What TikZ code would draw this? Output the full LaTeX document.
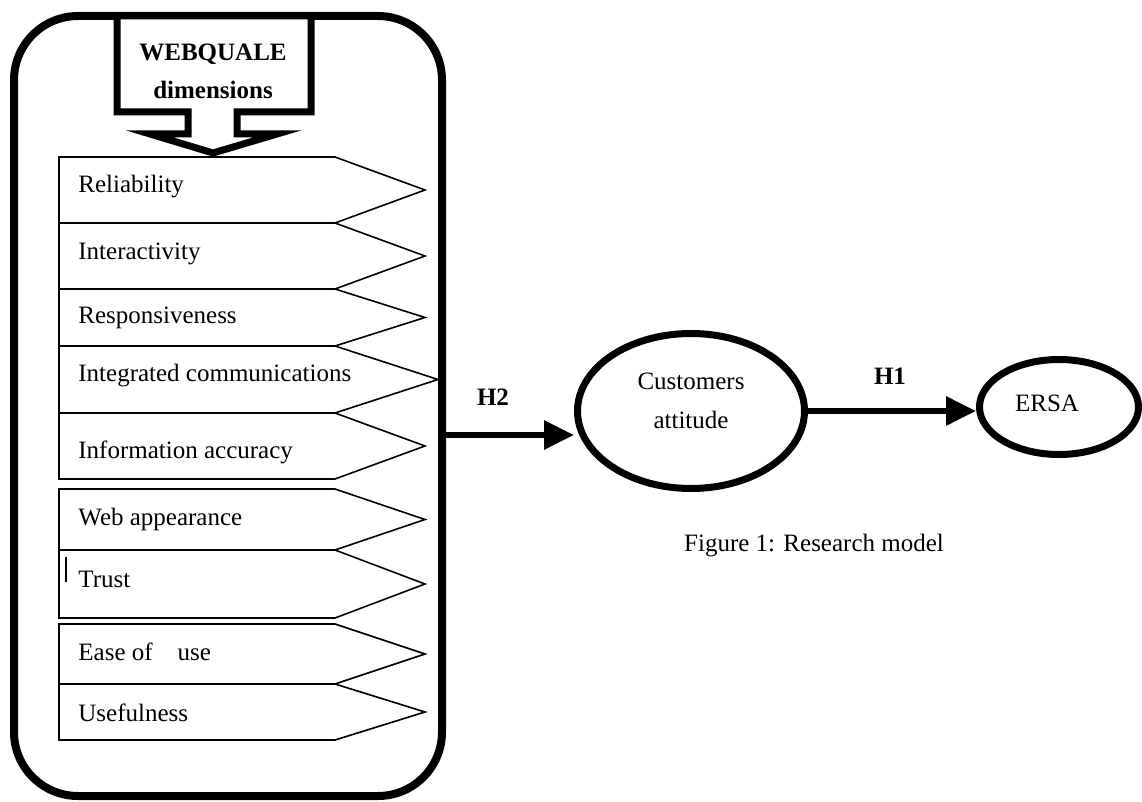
\documentclass[tikz,border=0pt]{standalone}
\usepackage{fontspec}
\setmainfont{Liberation Serif}
\usetikzlibrary{shapes.geometric, positioning, arrows.meta}

\begin{document}
\begin{tikzpicture}[x=0.5pt, y=-0.5pt,
    itembox/.style={draw, line width=0.8pt},
    itemtext/.style={anchor=west, inner sep=0pt, font=\fontsize{12.5}{15}\selectfont},
    bigellipse/.style={draw, ellipse, line width=3.5pt, inner sep=0pt},
    ellipsetext/.style={align=center, font=\fontsize{12.5}{19.5}\selectfont},
    link/.style={line width=3pt, -{Triangle[length=15pt, width=14pt]}},
    hlabel/.style={font=\fontsize{12.5}{15}\selectfont\bfseries}]
    \useasboundingbox (0,0) rectangle (1142,802);

    % Outer frame
    \node[draw, line width=4pt, rounded corners=32pt, minimum width=214pt,
          minimum height=390pt, inner sep=0pt] (frame) at (228,406) {};

    % Heading arrow
    \draw[line width=3.5pt, fill=white] (117,16) -- (311,16) -- (311,112) -- (237,112)
        -- (237,134) -- (277,134) -- (213,153) -- (150,134) -- (188,134)
        -- (188,112) -- (117,112) -- cycle;
    \node[font=\fontsize{12.5}{19}\selectfont\bfseries, align=center] (heading) at (213,71)
        {WEBQUALE\\dimensions};

    % Dimensions
    \foreach \ya/\yb/\tipx/\ty/\name/\txt in {
        157/223/425/187/rel/Reliability,
        223/289/425/254/inter/Interactivity,
        289/346/425/318/resp/Responsiveness,
        346/413/438/376/integ/Integrated communications,
        413/479/425/452/info/Information accuracy,
        489/550/425/519/webapp/Web appearance,
        550/618/425/579/trust/Trust,
        624/684/425/652/ease/Ease of\hskip 1em use,
        684/740/425/713/useful/Usefulness}
    {
        \draw[itembox] (59,\ya) -- (335,\ya) -- (\tipx,{(\ya+\yb)/2}) -- (335,\yb)
            -- (59,\yb) -- cycle;
        \node[itemtext] (\name) at (78,\ty) {\txt};
    }
    \draw[line width=1.3pt] (66,557) -- (66,582);

    % Constructs
    \node[bigellipse, minimum width=113.5pt, minimum height=77.5pt] (cust) at (691,411) {};
    \node[ellipsetext] (custtext) at (691,401) {Customers\\attitude};
    \node[bigellipse, minimum width=79.5pt, minimum height=47.5pt] (ersa) at (1059,407) {};
    \node[ellipsetext] (ersatext) at (1047,403) {ERSA};

    % Hypotheses
    \coordinate (h2) at (446,435);
    \draw[link] (frame.east |- h2) -- (cust.west |- h2);
    \draw[link] (cust.east) -- (cust.east -| ersa.west);
    \node[hlabel] (h2lab) at (493,397) {H2};
    \node[hlabel] (h1lab) at (890,376) {H1};

    % Caption
    \node[font=\fontsize{12.5}{15}\selectfont] (caption) at (814,546) {Figure 1: Research model};
\end{tikzpicture}
\end{document}
